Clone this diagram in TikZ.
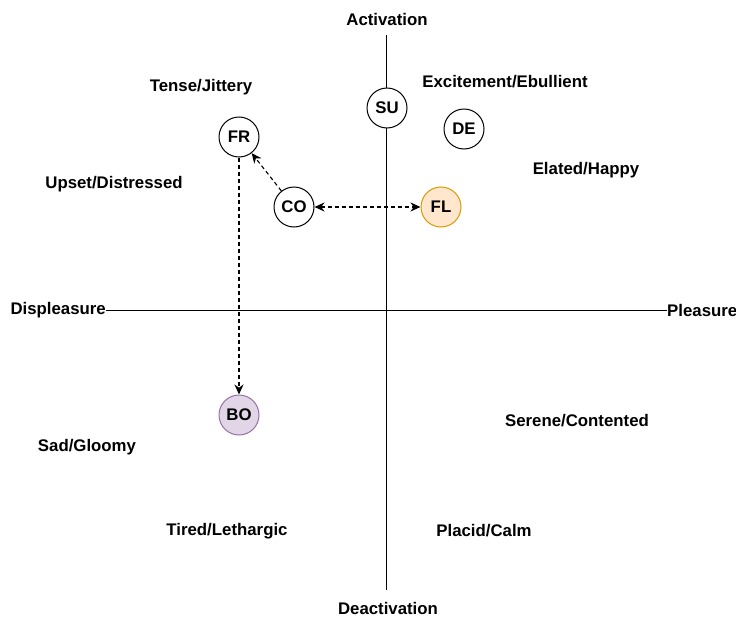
\documentclass[tikz,border=0pt]{standalone}
\usepackage{fontspec}
\setmainfont{Liberation Sans}
\usetikzlibrary{arrows.meta}
\definecolor{flfill}{HTML}{FFE6CC}
\definecolor{fldraw}{HTML}{D79B00}
\definecolor{bofill}{HTML}{E1D5E7}
\definecolor{bodraw}{HTML}{9673A6}
\begin{document}
\begin{tikzpicture}[x=1pt,y=-1pt,
  lbl/.style={font=\fontsize{16.8}{19}\selectfont\bfseries, inner sep=1pt},
  emo/.style={circle, draw, line width=1pt, minimum size=40pt, inner sep=0pt, fill=white,
    font=\fontsize{16.8}{19}\selectfont\bfseries},
  axis/.style={line width=1pt},
  tip/.style={Stealth[length=10pt,width=9pt]},
  link/.style={line width=1.1pt, dash pattern=on 4pt off 3pt, -{Stealth[length=10pt,width=9pt]}}]
\useasboundingbox (0,0) rectangle (736,618);
% axes labels
\node[lbl] (act) at (387,19) {Activation};
\node[lbl] (deact) at (388,608) {Deactivation};
\node[lbl, anchor=east, inner sep=0pt] (displ) at (106,310) {Displeasure};
\node[lbl, anchor=west, inner sep=0pt] (pleas) at (667,310) {Pleasure};
\coordinate (vtop) at (386,35);
\coordinate (vbot) at (386,590);
\draw[axis] (vtop) -- (vbot);
\draw[axis] (displ.east) -- (pleas.west);
% quadrant labels
\node[lbl] (tense) at (201,87) {Tense/Jittery};
\node[lbl] (excite) at (505,82) {Excitement/Ebullient};
\node[lbl] (elated) at (586,170) {Elated/Happy};
\node[lbl] (upset) at (114,184) {Upset/Distressed};
\node[lbl] (serene) at (577,421) {Serene/Contented};
\node[lbl] (sad) at (87,447) {Sad/Gloomy};
\node[lbl] (tired) at (227,531) {Tired/Lethargic};
\node[lbl] (placid) at (484,531) {Placid/Calm};
% emotion states
\node[emo] (SU) at (387,108) {SU};
\node[emo] (DE) at (464,129) {DE};
\node[emo] (FR) at (239,137) {FR};
\node[emo] (CO) at (294,207) {CO};
\node[emo, fill=flfill, draw=fldraw] (FL) at (441,207) {FL};
\node[emo, fill=bofill, draw=bodraw] (BO) at (239,415) {BO};
% transitions
\draw[link] (FR) -- (BO);
\draw[link] (CO) -- (FR);
\draw[link, {Stealth[length=10pt,width=9pt]}-{Stealth[length=10pt,width=9pt]}] (CO) -- (FL);
\end{tikzpicture}
\end{document}
